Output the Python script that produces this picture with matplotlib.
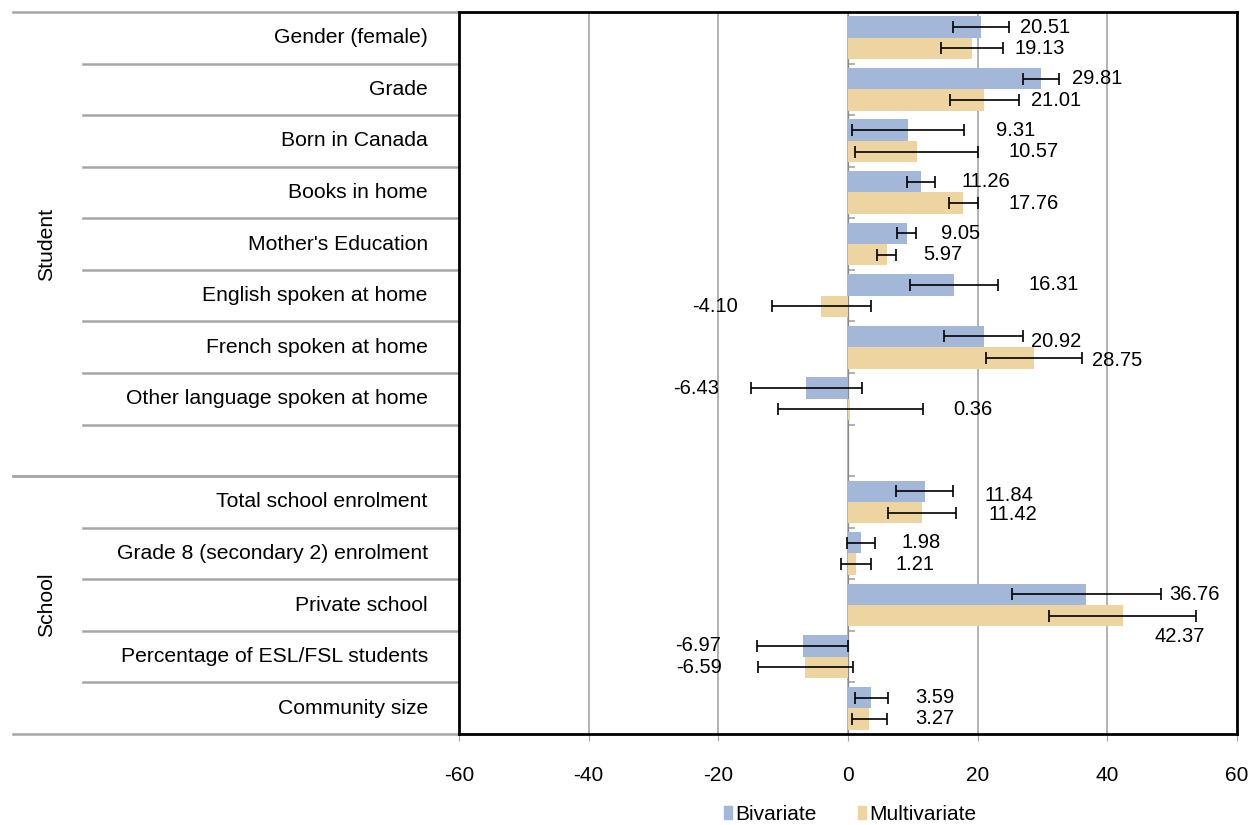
import numpy as np
import matplotlib
matplotlib.use("Agg")
import matplotlib.pyplot as plt
import matplotlib.transforms as mtransforms
from matplotlib.patches import Patch

plt.rcParams['font.family'] = ['Liberation Sans', 'DejaVu Sans']

# data
categories = ["Gender (female)", "Grade", "Born in Canada", "Books in home",
              "Mother's Education", "English spoken at home", "French spoken at home",
              "Other language spoken at home", "",
              "Total school enrolment", "Grade 8 (secondary 2) enrolment",
              "Private school", "Percentage of ESL/FSL students", "Community size"]
nan = np.nan
bivariate = [20.51, 29.81, 9.31, 11.26, 9.05, 16.31, 20.92, -6.43, nan,
             11.84, 1.98, 36.76, -6.97, 3.59]
multivariate = [19.13, 21.01, 10.57, 17.76, 5.97, -4.10, 28.75, 0.36, nan,
                11.42, 1.21, 42.37, -6.59, 3.27]
bivariate_err = [4.34, 2.75, 8.63, 2.12, 1.43, 6.79, 6.04, 8.52, nan,
                 4.40, 2.17, 11.46, 7.00, 2.53]
multivariate_err = [4.73, 5.33, 9.45, 2.23, 1.48, 7.69, 7.39, 11.15, nan,
                    5.22, 2.31, 11.35, 7.36, 2.69]

# where the value labels sit (data x of the near edge), and a little vertical nudge
biv_label_x = [26.5, 34.5, 22.8, 17.5, 14.3, 27.9, 28.3, -19.8, nan,
               21.1, 8.2, 49.6, -19.6, 10.3]
multi_label_x = [25.7, 28.2, 24.8, 24.8, 11.6, -17.0, 37.6, 16.2, nan,
                 21.6, 7.3, 47.2, -19.4, 10.3]
biv_label_dy = [0, 0, 0, 0, 0, 0, 0.10, 0, 0, 0.09, 0, 0, 0, 0]
multi_label_dy = [0, 0, 0, 0, 0, 0, 0.06, 0, 0, 0.04, 0, 0.41, 0, 0]

groups = ["Student", "School"]
group_spans = [(0, 8), (9, 13)]

BLUE = "#A3B8D9"
TAN = "#EDD4A1"
GRID = "#A6A6A6"

fig = plt.figure(figsize=(12.51, 8.25), dpi=100)
ax = fig.add_axes([0.3669, 0.1103, 0.6219, 0.8752])

y = np.arange(len(categories))
h = 0.415
ax.barh(y - h / 2, bivariate, height=h, color=BLUE, zorder=2)
ax.barh(y + h / 2, multivariate, height=h, color=TAN, zorder=2)
ax.errorbar(bivariate, y - h / 2, xerr=bivariate_err, fmt='none', ecolor='black',
            elinewidth=1.2, capsize=4.5, capthick=1.2, zorder=3)
ax.errorbar(multivariate, y + h / 2, xerr=multivariate_err, fmt='none', ecolor='black',
            elinewidth=1.2, capsize=4.5, capthick=1.2, zorder=3)

for i in range(len(categories)):
    for vals, lx, dy, off in [(bivariate, biv_label_x, biv_label_dy, -h / 2),
                              (multivariate, multi_label_x, multi_label_dy, h / 2)]:
        v = vals[i]
        if np.isnan(v):
            continue
        ax.text(lx[i], y[i] + off + dy[i], f"{v:.2f}", fontsize=14.5,
                ha='left' if v >= 0 else 'right', va='center', zorder=4, clip_on=False)

ax.set_xlim(-60, 60)
ax.set_ylim(len(categories) - 0.5, -0.5)
ax.set_xticks(np.arange(-60, 61, 20))
ax.set_xticklabels([str(t) for t in range(-60, 61, 20)], fontsize=15)
ax.tick_params(axis='x', direction='out', length=5, color=GRID, pad=18)
ax.set_yticks([])
ax.xaxis.grid(True, color=GRID, linewidth=1.2, zorder=0)
ax.set_axisbelow(True)
for s in ax.spines.values():
    s.set_color('black')
    s.set_linewidth(2.0)

# category axis at zero with tick marks between categories
sec = ax.secondary_yaxis(0.5)
sec.set_yticks(np.arange(len(categories) - 1) + 0.5)
sec.set_yticklabels([])
sec.tick_params(direction='out', length=5, color=GRID, width=1.2)
sec.spines['left'].set_color(GRID)
sec.spines['left'].set_linewidth(1.2)

# category labels and separators on the left
trans = mtransforms.blended_transform_factory(ax.transAxes, ax.transData)
for i, c in enumerate(categories):
    if c:
        ax.text(-0.04, y[i], c, transform=trans, ha='right', va='center',
                fontsize=15.2, clip_on=False)
for g, (a, b) in zip(groups, group_spans):
    ax.text(-0.53, (a + b) / 2, g, transform=trans, rotation=90, ha='center',
            va='center', fontsize=15.2, clip_on=False)
    ax.plot([-0.573, 0], [a - 0.5, a - 0.5], transform=trans, color=GRID,
            linewidth=1.8, clip_on=False)
    ax.plot([-0.573, 0], [b + 0.5, b + 0.5], transform=trans, color=GRID,
            linewidth=1.8, clip_on=False)
    for k in range(a, b):
        ax.plot([-0.483, 0], [k + 0.5, k + 0.5], transform=trans, color=GRID,
                linewidth=1.8, clip_on=False)

handles = [Patch(color=BLUE, label='Bivariate'), Patch(color=TAN, label='Multivariate')]
fig.legend(handles=handles, loc='center', bbox_to_anchor=(0.6795, 0.013), ncol=2,
           frameon=False, handlelength=0.4, handleheight=0.55, handletextpad=0.15,
           columnspacing=2.0, prop={'size': 15})

fig.savefig("out.png", dpi=100)
